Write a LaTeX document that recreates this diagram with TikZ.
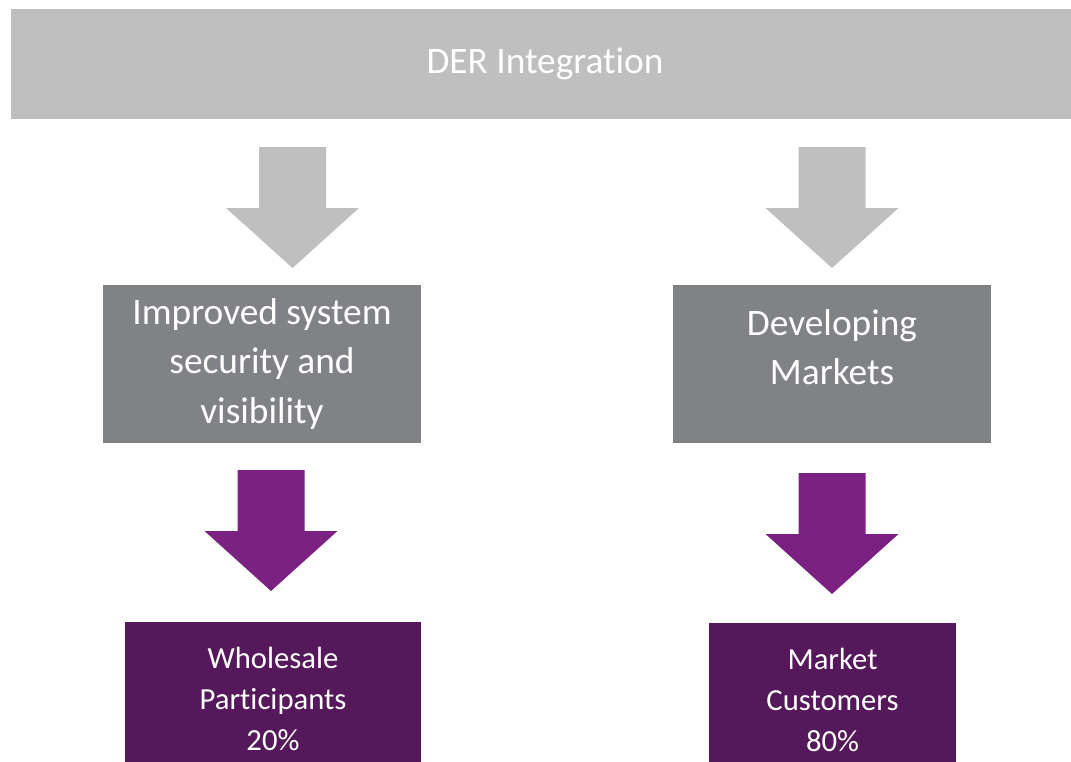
\documentclass[tikz,border=0pt]{standalone}
\usepackage{fontspec}
\setmainfont{Carlito}[Ligatures=NoCommon]
\usetikzlibrary{calc}

\definecolor{barGray}{HTML}{BFBFBF}
\definecolor{boxGray}{HTML}{808285}
\definecolor{arrPurple}{HTML}{7A2182}
\definecolor{boxPurple}{HTML}{55185A}

% block arrow pointing down, top centre at #2 (sizes in px)
\newcommand{\downblock}[2]{%
  \fill[#1] (#2) ++(-33.5,0) -- ++(0,61) -- ++(-33,0) -- ++(66.5,60)
    -- ++(66.5,-60) -- ++(-33,0) -- ++(0,-61) -- cycle;}

\begin{document}
\begin{tikzpicture}[x=0.75pt,y=-0.75pt,
        top/.style={rectangle,fill=barGray,text=white,inner sep=0pt,minimum width=801pt,minimum height=82.5pt,font=\fontsize{28}{37}\selectfont},
        mid/.style={rectangle,fill=boxGray,text=white,inner sep=0pt,minimum width=238.5pt,minimum height=118.5pt,align=center,font=\fontsize{28}{37}\selectfont},
        low/.style={rectangle,fill=boxPurple,text=white,inner sep=0pt,minimum height=115.5pt,align=center,font=\fontsize{23}{30.5}\selectfont}
      ]
      \useasboundingbox (0,0) rectangle (1071,761);
      \node[top] (der) at (545,64) {DER Integration};
      \node[mid] (sec) at (262,364) {Improved system\\security and\\visibility};
      \node[mid,text depth=25pt] (mkt) at (832,364) {Developing\\Markets};
      \node[low,minimum width=222pt] (whole) at (273,699) {Wholesale\\Participants\\20\%};
      \node[low,minimum width=185.25pt] (cust) at (832.5,700) {Market\\Customers\\80\%};
      % arrows between the levels
      \coordinate (a1) at (292.5,147);
      \coordinate (a2) at (832,147);
      \coordinate (b1) at (271,470);
      \coordinate (b2) at (832,473);
      \downblock{barGray}{a1}
      \downblock{barGray}{a2}
      \downblock{arrPurple}{b1}
      \downblock{arrPurple}{b2}
    \end{tikzpicture}
\end{document}
